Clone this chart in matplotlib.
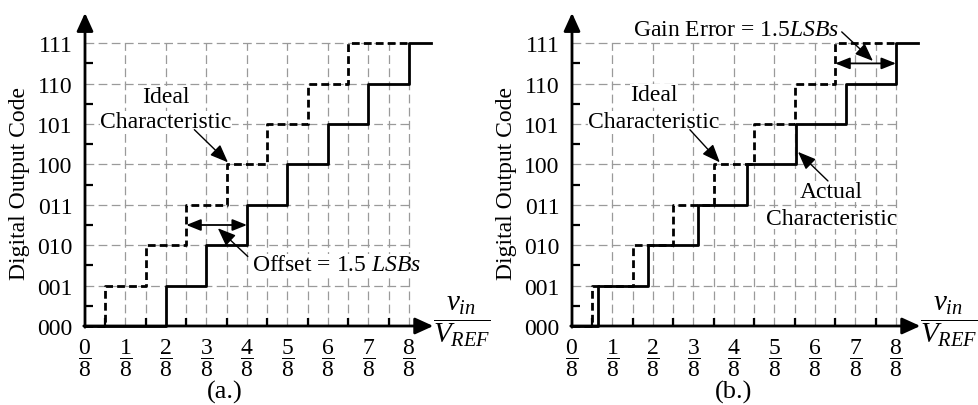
import numpy as np
import matplotlib.pyplot as plt

plt.rcParams['font.family'] = ['Liberation Serif', 'DejaVu Serif']
plt.rcParams['mathtext.fontset'] = 'custom'
plt.rcParams['mathtext.rm'] = 'Liberation Serif'
plt.rcParams['mathtext.it'] = 'Liberation Serif:italic'

# data (x in LSB = 1/8 of V_REF)
codes = [0, 1, 2, 3, 4, 5, 6, 7]
code_labels = ['000', '001', '010', '011', '100', '101', '110', '111']
frac_labels = [r'$\dfrac{%d}{8}$' % i for i in range(9)]
ideal_edges = [0.5, 1.5, 2.5, 3.5, 4.5, 5.5, 6.5]
offset_edges = [2, 3, 4, 5, 6, 7, 8]
gain_edges = [0.65, 1.87, 3.1, 4.33, 5.53, 6.77, 8.0]

W, H = 979, 406
PX = 40.5  # pixels per LSB
FS = 17
fig = plt.figure(figsize=(W / 100, H / 100), dpi=100)

GRID = dict(color='#9a9a9a', lw=0.9, linestyle=(0, (7, 3.5)), zorder=1)
TXT = dict(fontsize=FS, ha='center', va='center', zorder=3,
           bbox=dict(facecolor='white', edgecolor='none', pad=0))


def pointer(ax, start, tip):
    ax.annotate('', xy=tip, xytext=start, zorder=6,
                arrowprops=dict(arrowstyle='-|>,head_length=0.55,head_width=0.22',
                                mutation_scale=20, lw=1, color='black',
                                shrinkA=0, shrinkB=0))


def span(ax, x0, x1, y):
    ax.annotate('', xy=(x1, y), xytext=(x0, y), zorder=6,
                arrowprops=dict(arrowstyle='<|-|>,head_length=0.55,head_width=0.22',
                                mutation_scale=16, lw=1.3, color='black',
                                shrinkA=0, shrinkB=0))


def panel(left_px, actual_edges, caption, cap_x):
    ax = fig.add_axes([left_px / W, 79 / H, 9 * PX / W, 8 * 40.4 / H])
    ax.set_xlim(0, 9)
    ax.set_ylim(0, 8)
    for s in ax.spines.values():
        s.set_visible(False)

    # grid
    for c in codes[1:]:
        ax.hlines(c, 0, 8, **GRID)
    for x in np.arange(1, 8.01, 0.5):
        if x == int(x):
            ax.vlines(x, 0, 7, **GRID)
        else:
            ax.vlines(x, 0, min(int(x), 7), **GRID)

    # characteristics
    ax.step([0] + ideal_edges + [8], codes + [7], where='post', color='black',
            lw=2, linestyle=(0, (2.8, 1.5)), zorder=4, clip_on=False)
    ax.step([0] + actual_edges + [8.55], codes + [7], where='post', color='black',
            lw=2, zorder=5, clip_on=False)

    # axes with arrows
    head = dict(arrowstyle='-|>,head_length=0.55,head_width=0.25', mutation_scale=20,
                lw=2, color='black', shrinkA=0, shrinkB=0)
    ax.annotate('', xy=(0, 7.75), xytext=(0, -0.03), arrowprops=head, zorder=7)
    ax.annotate('', xy=(8.6, 0), xytext=(-0.03, 0), arrowprops=head, zorder=7)

    ax.set_xticks(range(9), frac_labels)
    ax.set_xticks(ideal_edges + [7.5], minor=True)
    ax.set_yticks(codes, code_labels)
    ax.set_yticks([c + 0.5 for c in codes[:-1]], minor=True)
    ax.tick_params(which='major', length=0, labelsize=FS)
    ax.tick_params(axis='x', which='major', pad=8)
    ax.tick_params(axis='y', which='major', pad=9)
    ax.tick_params(which='minor', length=5.5, width=1.6, direction='in')

    ax.text(-1.62, 3.55, 'Digital Output Code', rotation=90, fontsize=FS,
            ha='center', va='center')
    ax.text(8.6, 0.12, r'$\dfrac{v_{in}}{V_{REF}}$', fontsize=21,
            ha='left', va='center', clip_on=False)
    ax.text(cap_x, -1.63, caption, fontsize=19, ha='center', va='center')
    return ax


# (a) offset error
a = panel(85, offset_edges, '(a.)', 3.46)
a.text(2.0, 5.69, 'Ideal', **TXT)
a.text(2.0, 5.05, 'Characteristic', **TXT)
pointer(a, (2.7, 4.86), (3.53, 4.05))
span(a, 2.5, 4.0, 2.5)
a.text(4.12, 1.53, r'Offset = 1.5 $LSBs$', fontsize=FS, ha='left', va='center',
       zorder=3, bbox=dict(facecolor='white', edgecolor='none', pad=0))
pointer(a, (4.02, 1.72), (3.28, 2.42))

# (b) gain error
b = panel(572, gain_edges, '(b.)', 4.0)
b.text(2.02, 5.74, 'Ideal', **TXT)
b.text(2.02, 5.07, 'Characteristic', **TXT)
pointer(b, (2.91, 4.86), (3.65, 4.05))
b.text(6.4, 3.32, 'Actual', **TXT)
b.text(6.4, 2.67, 'Characteristic', **TXT)
pointer(b, (6.32, 3.59), (5.58, 4.31))
span(b, 6.5, 8.0, 6.5)
b.text(4.06, 7.33, r'Gain Error = 1.5$LSBs$', fontsize=FS, ha='center', va='center')
pointer(b, (6.66, 7.28), (7.43, 6.56))

fig.savefig('out.png', dpi=100)
